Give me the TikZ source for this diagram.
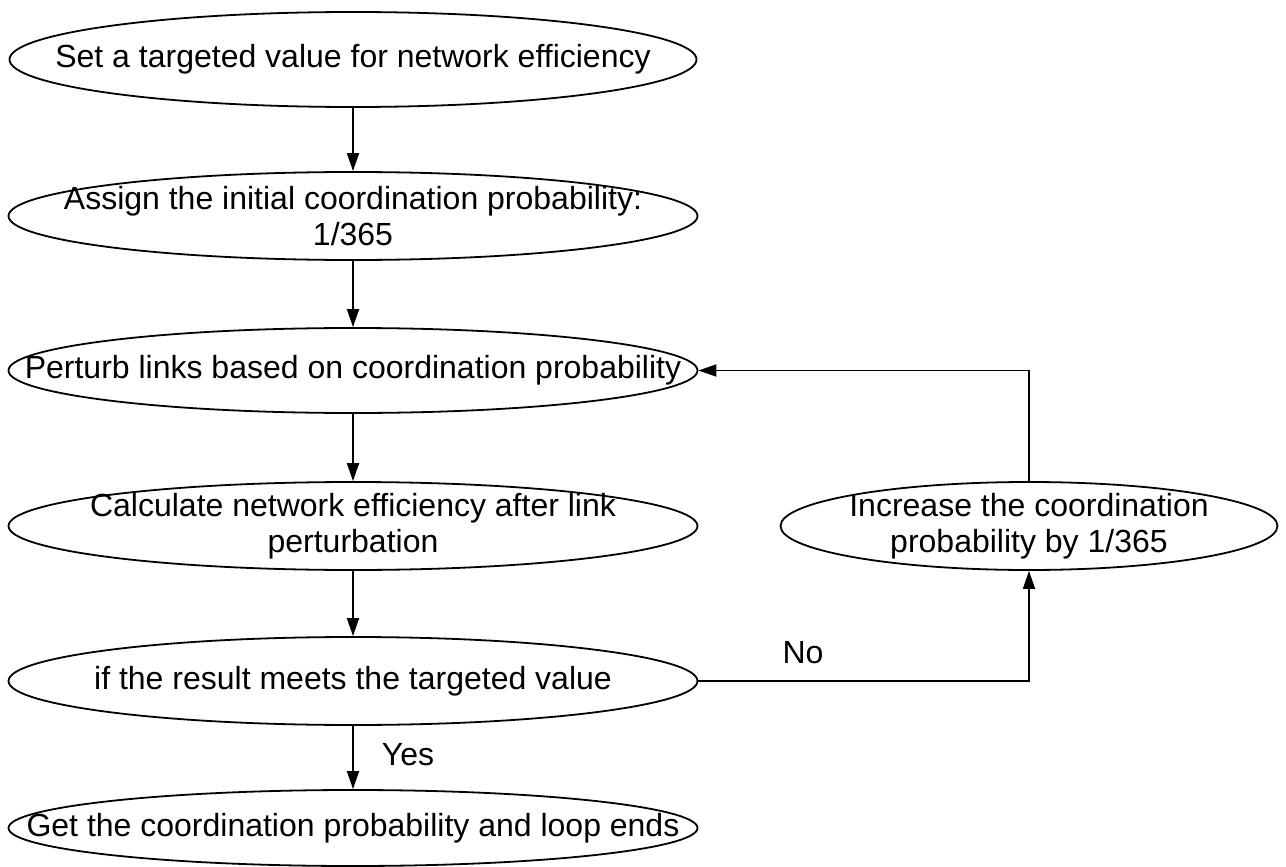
\documentclass[tikz,border=0pt]{standalone}
\usepackage{fontspec}
\setmainfont{Liberation Sans}
\usetikzlibrary{shapes.geometric,arrows.meta}
\begin{document}
\begin{tikzpicture}[x=1pt,y=-1pt,
  el/.style={draw, ellipse, line width=1.8pt, inner sep=0pt},
  txt/.style={align=center, inner sep=0pt, font=\fontsize{32}{36}\selectfont},
  arr/.style={line width=1.8pt, -{Triangle[length=18pt,width=12pt]}},
  lbl/.style={font=\fontsize{32}{36}\selectfont}]
\useasboundingbox (0,0) rectangle (1286,867);
\node[el, minimum width=687pt, minimum height=95pt] (e1) at (353,59.5) {};
\node[txt] (t1) at (e1) {Set a targeted value for network efficiency};
\node[el, minimum width=689pt, minimum height=88pt] (e2) at (353,216) {};
\node[txt] (t2) at (e2) {Assign the initial coordination probability:\\1/365};
\node[el, minimum width=689pt, minimum height=85pt] (e3) at (353,370.5) {};
\node[txt] (t3) at (e3) {Perturb links based on coordination probability};
\node[el, minimum width=689pt, minimum height=88pt] (e4) at (353,526) {};
\node[txt] (t4) at (e4) {Calculate network efficiency after link\\perturbation};
\node[el, minimum width=689pt, minimum height=88pt] (e5) at (353,681) {};
\node[txt] (t5) at (e5) {if the result meets the targeted value};
\node[el, minimum width=689pt, minimum height=76pt] (e6) at (353,828) {};
\node[txt] (t6) at (e6) {Get the coordination probability and loop ends};
\node[el, minimum width=497pt, minimum height=88pt] (r) at (1029,526) {};
\node[txt] (tr) at (r) {Increase the coordination\\probability by 1/365};
\draw[arr] (e1) -- (e2);
\draw[arr] (e2) -- (e3);
\draw[arr] (e3) -- (e4);
\draw[arr] (e4) -- (e5);
\draw[arr] (e5) -- (e6);
\draw[arr] (e5.east) -| (r.south);
\draw[arr] (r.north) |- (e3.east);
\node[lbl] (no) at (803,653) {No};
\node[lbl] (yes) at (408,755) {Yes};
\end{tikzpicture}
\end{document}
